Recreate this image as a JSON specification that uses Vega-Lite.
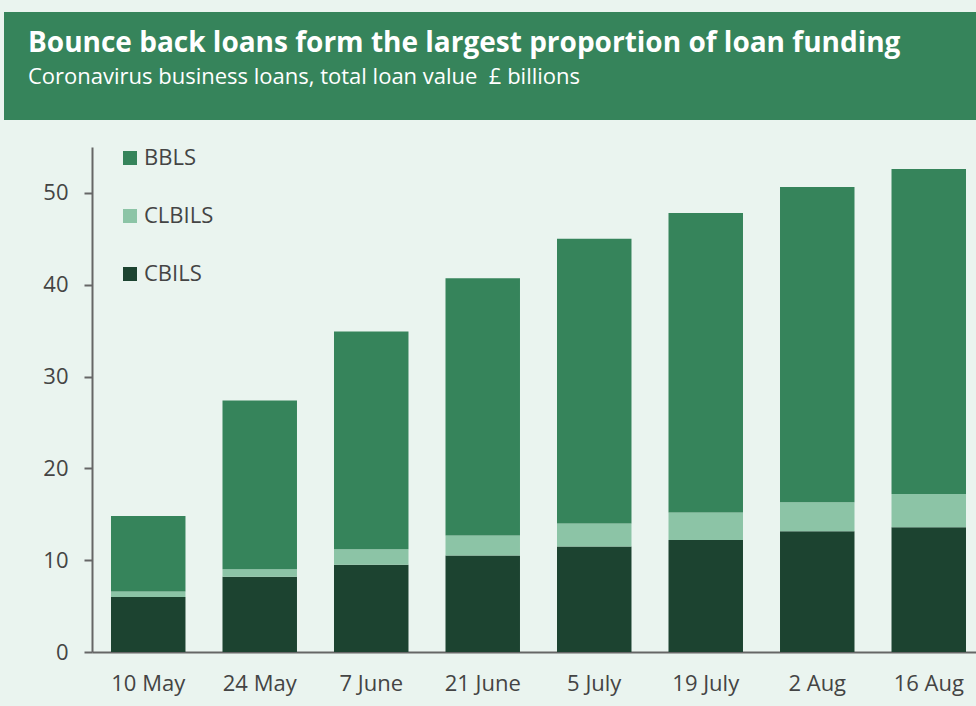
{
  "$schema": "https://vega.github.io/schema/vega-lite/v6.json",
  "background": "#eaf4ef",
  "padding": {"left": 4, "top": 12, "right": 0, "bottom": 14},
  "spacing": 27,
  "config": {
    "font": "Open Sans",
    "view": {"stroke": null},
    "concat": {"spacing": 27}
  },
  "vconcat": [
    {
      "width": 972,
      "height": 108,
      "view": {"fill": "#36845b", "stroke": null},
      "title": {
        "text": "Bounce back loans form the largest proportion of loan funding",
        "subtitle": "Coronavirus business loans, total loan value\u00a0 £ billions",
        "anchor": "start",
        "frame": "group",
        "orient": "top",
        "offset": -76,
        "dx": 24,
        "font": "Open Sans",
        "fontSize": 28,
        "fontWeight": "bold",
        "color": "#ffffff",
        "subtitleFont": "Open Sans",
        "subtitleFontSize": 22,
        "subtitleColor": "#ffffff",
        "subtitlePadding": 9
      },
      "data": {"values": [{"t": ""}]},
      "mark": {"type": "text"},
      "encoding": {"text": {"field": "t"}}
    },
    {
      "width": 972,
      "height": 505,
      "data": {
        "values": [
          {"date": "10 May", "series": "CBILS", "value": 6.0},
          {"date": "10 May", "series": "CLBILS", "value": 0.6},
          {"date": "10 May", "series": "BBLS", "value": 8.2},
          {"date": "24 May", "series": "CBILS", "value": 8.2},
          {"date": "24 May", "series": "CLBILS", "value": 0.8},
          {"date": "24 May", "series": "BBLS", "value": 18.4},
          {"date": "7 June", "series": "CBILS", "value": 9.5},
          {"date": "7 June", "series": "CLBILS", "value": 1.7},
          {"date": "7 June", "series": "BBLS", "value": 23.7},
          {"date": "21 June", "series": "CBILS", "value": 10.5},
          {"date": "21 June", "series": "CLBILS", "value": 2.2},
          {"date": "21 June", "series": "BBLS", "value": 28.0},
          {"date": "5 July", "series": "CBILS", "value": 11.5},
          {"date": "5 July", "series": "CLBILS", "value": 2.5},
          {"date": "5 July", "series": "BBLS", "value": 31.0},
          {"date": "19 July", "series": "CBILS", "value": 12.2},
          {"date": "19 July", "series": "CLBILS", "value": 3.0},
          {"date": "19 July", "series": "BBLS", "value": 32.6},
          {"date": "2 Aug", "series": "CBILS", "value": 13.15},
          {"date": "2 Aug", "series": "CLBILS", "value": 3.15},
          {"date": "2 Aug", "series": "BBLS", "value": 34.35},
          {"date": "16 Aug", "series": "CBILS", "value": 13.6},
          {"date": "16 Aug", "series": "CLBILS", "value": 3.6},
          {"date": "16 Aug", "series": "BBLS", "value": 35.4}
        ]
      },
      "transform": [
        {"calculate": "indexof(['CBILS', 'CLBILS', 'BBLS'], datum.series)", "as": "stackOrder"}
      ],
      "mark": {"type": "bar"},
      "encoding": {
        "x": {
          "field": "date",
          "type": "ordinal",
          "sort": ["10 May", "24 May", "7 June", "21 June", "5 July", "19 July", "2 Aug", "16 Aug"],
          "scale": {"range": [88, 972], "paddingInner": 0.332, "paddingOuter": 0.13, "align": 0.655},
          "axis": {
            "title": null,
            "labelAngle": 0,
            "labelFontSize": 22,
            "labelColor": "#444444",
            "labelPadding": 21,
            "ticks": false,
            "domainColor": "#666666",
            "domainWidth": 2
          }
        },
        "y": {
          "field": "value",
          "type": "quantitative",
          "stack": "zero",
          "scale": {"domain": [0, 55], "nice": false},
          "axis": {
            "title": null,
            "values": [0, 10, 20, 30, 40, 50],
            "offset": -88,
            "grid": false,
            "labelFontSize": 22,
            "labelColor": "#444444",
            "labelPadding": 16,
            "tickSize": 8,
            "tickColor": "#666666",
            "tickWidth": 2,
            "domainColor": "#666666",
            "domainWidth": 2
          }
        },
        "order": {"field": "stackOrder", "type": "quantitative", "sort": "ascending"},
        "color": {
          "field": "series",
          "type": "nominal",
          "scale": {"domain": ["BBLS", "CLBILS", "CBILS"], "range": ["#36845b", "#8cc4a6", "#1c4330"]},
          "legend": {
            "title": null,
            "orient": "none",
            "legendX": 115,
            "legendY": 135,
            "padding": 0,
            "symbolType": "square",
            "symbolSize": 196,
            "symbolStrokeWidth": 0,
            "symbolOpacity": 1,
            "labelFontSize": 22,
            "labelColor": "#444444",
            "labelOffset": 3,
            "rowPadding": 36
          }
        }
      }
    }
  ]
}
